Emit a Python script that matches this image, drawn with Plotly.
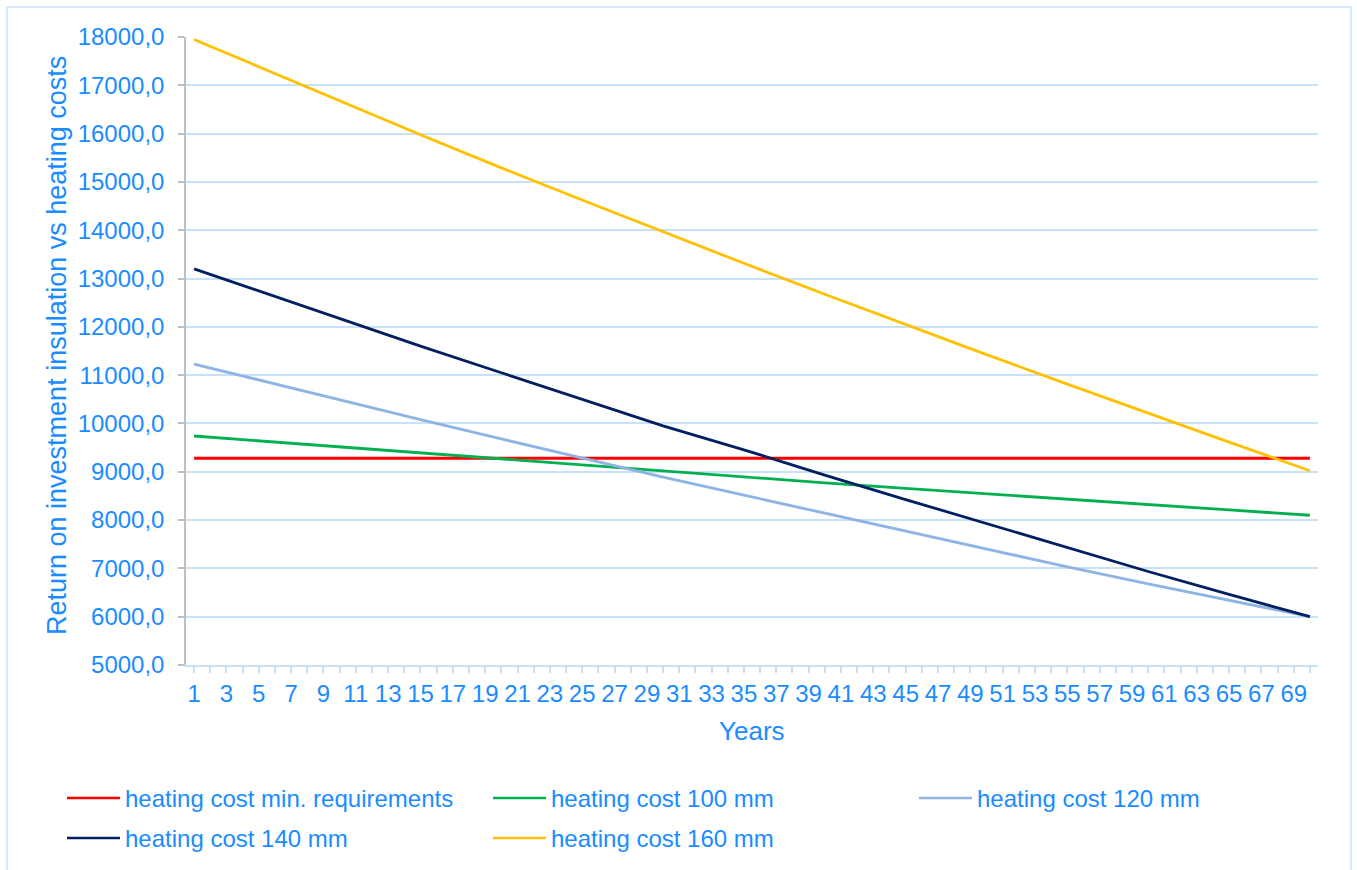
import plotly.graph_objects as go

# Years at which each heating-cost curve is sampled
years = [1, 5, 10, 15, 20, 25, 30, 35, 40, 45, 50, 55, 60, 65, 70]

cost_min_req = [9280, 9280, 9280, 9280, 9280, 9280, 9280, 9280, 9280, 9280, 9280, 9280, 9280, 9280, 9280]
cost_100mm = [9740, 9640, 9510, 9390, 9270, 9140, 9015, 8895, 8770, 8655, 8540, 8430, 8320, 8210, 8100]
cost_120mm = [11230, 10900, 10490, 10080, 9680, 9280, 8890, 8515, 8140, 7765, 7390, 7030, 6680, 6335, 6000]
cost_140mm = [13200, 12745, 12180, 11600, 11050, 10500, 9950, 9455, 8930, 8425, 7925, 7420, 6935, 6460, 6000]
cost_160mm = [17950, 17380, 16680, 15975, 15290, 14625, 13965, 13315, 12675, 12045, 11425, 10815, 10210, 9615, 9020]

series_names = [
    "heating cost min. requirements",
    "heating cost 100 mm",
    "heating cost 120 mm",
    "heating cost 140 mm",
    "heating cost 160 mm",
]
series_values = [cost_min_req, cost_100mm, cost_120mm, cost_140mm, cost_160mm]
series_colors = ["#FF0000", "#00B050", "#8DB4E2", "#002060", "#FFC000"]

# Category axis: every year gets a tick mark, odd years get a label
year_ticks = list(range(1, 71))
year_labels = [str(y) if y % 2 == 1 else "" for y in year_ticks]

y_ticks = [5000, 6000, 7000, 8000, 9000, 10000, 11000, 12000, 13000, 14000, 15000, 16000, 17000, 18000]

TEXT = "#1A8CFF"
GRID = "#C9E1F7"
FONT = "Liberation Sans, Arial, sans-serif"

W, H = 1357, 870
L, R, T, B = 186, 39, 37, 205
PW, PH = W - L - R, H - T - B


def px_x(px):
    return (px - L) / PW


def px_y(py):
    return (H - B - py) / PH


fig = go.Figure()
for name, vals, col in zip(series_names, series_values, series_colors):
    fig.add_trace(go.Scatter(
        x=years, y=vals, name=name, mode="lines",
        line=dict(color=col, width=2.8), showlegend=False,
    ))

shapes = []
annotations = []

# Outer chart frame
shapes.append(dict(type="rect", xref="paper", yref="paper",
                   x0=px_x(7), x1=px_x(1351), y0=px_y(876), y1=px_y(7),
                   line=dict(color=GRID, width=1.5), layer="below"))

# Legend: two rows, three columns
legend_pos = [(67, 798), (493, 798), (919, 798), (67, 838), (493, 838)]
for (lx, ly), name, col in zip(legend_pos, series_names, series_colors):
    shapes.append(dict(type="line", xref="paper", yref="paper",
                       x0=px_x(lx), x1=px_x(lx + 53), y0=px_y(ly), y1=px_y(ly),
                       line=dict(color=col, width=2.5)))
    annotations.append(dict(xref="paper", yref="paper", x=px_x(lx + 56), y=px_y(ly),
                            xanchor="left", yanchor="middle", showarrow=False,
                            text=name, font=dict(family=FONT, size=24, color=TEXT)))

# Axis titles
annotations.append(dict(xref="paper", yref="paper", x=px_x(57), y=px_y(346),
                        xanchor="center", yanchor="middle", showarrow=False, textangle=-90,
                        text="Return on investment insulation vs heating costs",
                        font=dict(family=FONT, size=27, color=TEXT)))
annotations.append(dict(xref="paper", yref="paper", x=0.5, y=px_y(731),
                        xanchor="center", yanchor="middle", showarrow=False,
                        text="Years", font=dict(family=FONT, size=26, color=TEXT)))

fig.update_layout(
    width=W, height=H,
    margin=dict(l=L, r=R, t=T, b=B),
    paper_bgcolor="white", plot_bgcolor="white",
    separators=", ",
    font=dict(family=FONT, size=24, color=TEXT),
    shapes=shapes, annotations=annotations,
    showlegend=False,
)
fig.update_xaxes(
    range=[0.5, 70.5], tickmode="array", tickvals=year_ticks, ticktext=year_labels,
    tickangle=0, ticks="outside", ticklen=6, tickcolor=GRID, tickwidth=1.5,
    showline=True, linecolor=GRID, linewidth=1.5, showgrid=False, zeroline=False,
    tickfont=dict(family=FONT, size=24, color=TEXT),
)
fig.update_yaxes(
    range=[5000, 18000], tickmode="array", tickvals=y_ticks, tickformat=".1f",
    ticks="outside", ticklen=6, tickcolor="#BFBFBF", tickwidth=1.5,
    showline=True, linecolor="#BFBFBF", linewidth=1.5, ticklabelstandoff=9,
    showgrid=True, gridcolor=GRID, gridwidth=1.5, zeroline=False,
    tickfont=dict(family=FONT, size=24, color=TEXT),
)

fig.write_html("out.html")
